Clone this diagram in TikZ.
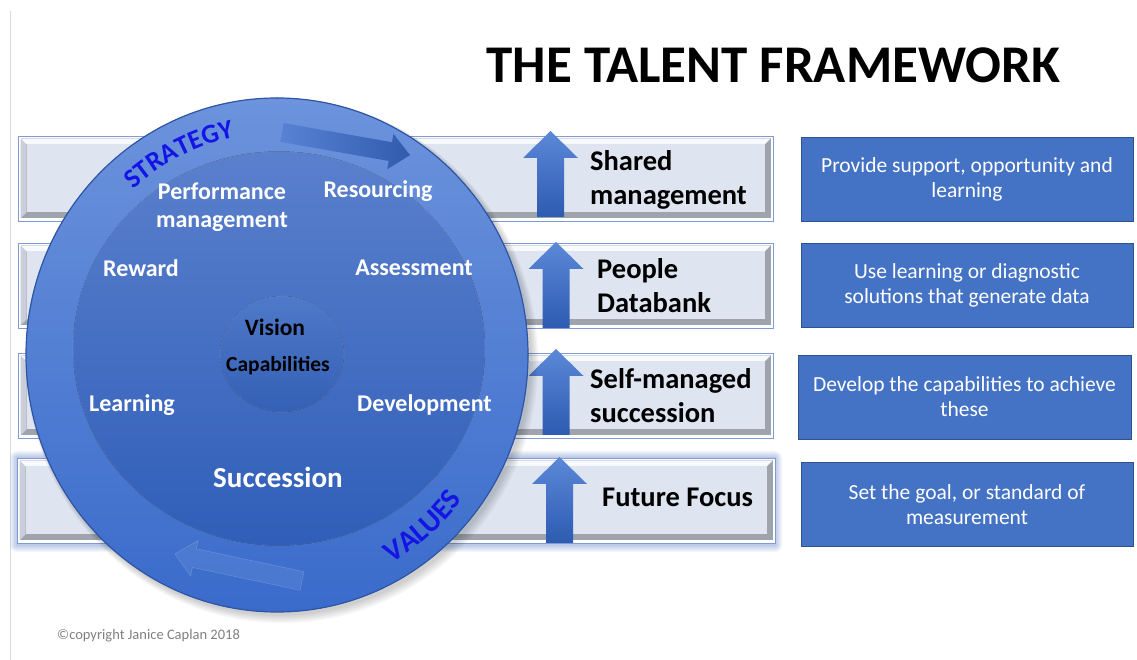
\documentclass[tikz,border=0pt]{standalone}
\usepackage{fontspec}
\setmainfont{Carlito}
\usetikzlibrary{decorations.text}

\definecolor{officeblue}{HTML}{4472C4}
\definecolor{boxedge}{HTML}{2F528F}
\definecolor{barface}{HTML}{DEE5F1}
\definecolor{barline}{HTML}{7F9BD3}
\definecolor{bevellight}{HTML}{F7F9FC}
\definecolor{bevelmid}{HTML}{C9CED8}
\definecolor{beveldark}{HTML}{9EA3AC}
\definecolor{ringtop}{HTML}{6C93DC}
\definecolor{ringbottom}{HTML}{3A6BCB}
\definecolor{ringrim}{HTML}{2E55A5}
\definecolor{disctop}{HTML}{5A80CD}
\definecolor{discbottom}{HTML}{305EB8}
\definecolor{coretop}{HTML}{4F79C9}
\definecolor{corebottom}{HTML}{3460B5}
\definecolor{wordblue}{HTML}{1414E6}
\definecolor{arrowtop}{HTML}{5C88D8}
\definecolor{arrowbottom}{HTML}{2D5BB1}
\definecolor{notegray}{HTML}{808080}

\newcommand\titlefont{\bfseries\fontsize{53}{60}\selectfont}
\newcommand\barfont{\bfseries\fontsize{28.5}{34}\selectfont}
\newcommand\notefont{\fontsize{21.5}{25}\selectfont}
\newcommand\wheelfont{\bfseries\fontsize{24}{28}\selectfont}
\newcommand\arcfont{\bfseries\fontsize{27}{27}\selectfont}
\newcommand\arcfontb{\bfseries\fontsize{29.5}{29.5}\selectfont}

\tikzset{
  x=1pt, y=1pt,
  bar/.style={draw=barline, line width=0.8pt, fill=white, inner sep=0pt,
    minimum height=85pt,
    path picture={
      \fill[beveldark]
        ([shift={(2.5pt,2.5pt)}]path picture bounding box.south west) rectangle
        ([shift={(-2.5pt,-2.5pt)}]path picture bounding box.north east);
      \fill[bevelmid]
        ([shift={(2.5pt,-2.5pt)}]path picture bounding box.north west) --
        ([shift={(8.5pt,-8.5pt)}]path picture bounding box.north west) --
        ([shift={(8.5pt,8.5pt)}]path picture bounding box.south west) --
        ([shift={(2.5pt,2.5pt)}]path picture bounding box.south west) -- cycle;
      \fill[bevellight]
        ([shift={(2.5pt,-2.5pt)}]path picture bounding box.north west) --
        ([shift={(-2.5pt,-2.5pt)}]path picture bounding box.north east) --
        ([shift={(-8.5pt,-8.5pt)}]path picture bounding box.north east) --
        ([shift={(8.5pt,-8.5pt)}]path picture bounding box.north west) -- cycle;
      \fill[barface]
        ([shift={(8.5pt,8.5pt)}]path picture bounding box.south west) rectangle
        ([shift={(-8.5pt,-8.5pt)}]path picture bounding box.north east);
    }},
  % multi-line nodes: the base anchor sits on the last line
  bartext/.style={font=\barfont, align=left, inner sep=0pt, anchor=base west},
  note/.style={draw=boxedge, line width=0.8pt, fill=officeblue, text=white,
    align=center, inner sep=0pt, minimum width=332pt, minimum height=84pt,
    font=\notefont},
  wheeltext/.style={font=\wheelfont, text=white, align=center, inner sep=0pt, anchor=base},
  uparrow/.pic={
    \path[pic actions] (-13.5,0) -- (-13.5,59) -- (-27.5,59) -- (0,86)
      -- (27.5,59) -- (13.5,59) -- (13.5,0) -- cycle;},
  ringarrow/.pic={
    \path[pic actions] (0,-9.5) -- (110,-9.5) -- (110,-18) -- (130,0)
      -- (110,18) -- (110,9.5) -- (0,9.5) -- cycle;},
  upfill/.style={top color=arrowtop, bottom color=arrowbottom},
}

\begin{document}
\begin{tikzpicture}
\useasboundingbox (0,0) rectangle (1137,660);
\fill[white] (0,0) rectangle (1137,660);

% thin margin rule on the left
\draw[line width=1pt, black!15] (10,649) -- (10,0);

% heading
\node[font=\titlefont, inner sep=0pt, anchor=base] (title) at (773.5,577) {THE TALENT FRAMEWORK};

% soft glow behind the lowest bar
\foreach \g in {1,...,7}
  \fill[officeblue, opacity=0.06, rounded corners=\g pt]
    (17-\g,116-\g-1) rectangle (775+\g,203+\g-1);

% the four bevelled bars
\node[bar, minimum width=755pt] (bar1) at (395.5,481.5) {};
\node[bar, minimum width=755pt] (bar2) at (395.5,374.5) {};
\node[bar, minimum width=755pt] (bar3) at (395.5,264.5) {};
\node[bar, minimum width=758pt] (bar4) at (396,159.5) {};

% rising arrows
\pic[upfill] at (550.5,443) {uparrow};
\pic[upfill] at (556,332) {uparrow};
\pic[upfill] at (556,225) {uparrow};
\pic[upfill] at (559.5,117) {uparrow};

% bar captions
\node[bartext] (shared) at (590,455) {Shared\\management};
\node[bartext] (people) at (597,347) {People\\Databank};
\node[bartext] (selfman) at (590,237) {Self-managed\\succession};
\node[bartext] (future) at (602,153) {Future Focus};

% explanation boxes
\node[note] (n1) at (967,481) {Provide support, opportunity and\\learning};
\node[note] (n2) at (967,374.5) {Use learning or diagnostic\\solutions that generate data};
\node[note, minimum width=333pt] (n3) at (964.5,263) {Develop the capabilities to achieve\\these};
\node[note] (n4) at (967,155.5) {Set the goal, or standard of\\measurement};

% wheel: shadow, outer ring, inner disc, core
\foreach \k in {1,...,5}
  \fill[black, opacity=0.04] (279+0.6*\k,303-0.8*\k) ellipse [x radius=251+\k, y radius=257+\k];
\fill[top color=ringtop, bottom color=ringbottom] (277,305) ellipse [x radius=251, y radius=257];
\draw[ringrim, line width=1.2pt] (277,305) ellipse [x radius=251, y radius=257];
\coordinate (wheel) at (277,305);
\fill[top color=disctop, bottom color=discbottom] (279,311.5) ellipse [x radius=206, y radius=197];
\draw[white, opacity=0.1, line width=0.8pt] (279,311.5) ellipse [x radius=206, y radius=197];
\fill[top color=coretop, bottom color=corebottom] (282,306) ellipse [x radius=62, y radius=58];
\draw[white, opacity=0.1, line width=0.8pt] (282,306) ellipse [x radius=62, y radius=58];

% circulating arrows on the ring
\pic[rotate=-10, left color=ringtop!60!ringbottom, right color=ringbottom!85!black] at (282,527.5) {ringarrow};
\pic[rotate=168, fill=ringtop, fill opacity=0.3, draw=ringtop!60!white, draw opacity=0.4] at (302,79) {ringarrow};

% labels in the wheel
\node[wheeltext] (perf) at (222,432) {Performance\\management};
\node[wheeltext] (resourcing) at (378,462) {Resourcing};
\node[wheeltext] (reward) at (141,383) {Reward};
\node[wheeltext] (assessment) at (414,384) {Assessment};
\node[wheeltext, text=black, font=\bfseries\fontsize{23.5}{28}\selectfont] (vision) at (275,324) {Vision};
\node[wheeltext, text=black, font=\bfseries\fontsize{21.5}{26}\selectfont] (capab) at (278,288) {Capabilities};
\node[wheeltext] (learning) at (132,248) {Learning};
\node[wheeltext] (development) at (424.5,248) {Development};
\node[wheeltext, font=\bfseries\fontsize{29}{34}\selectfont] (succession) at (278,172) {Succession};

% lettering that follows the ring
\path[decorate, decoration={text along path, text align=center,
    text color=wordblue, text={|\arcfont|STRATEGY}}]
  ([shift={(141:216pt and 222pt)}]wheel) arc[start angle=141, end angle=92, x radius=216, y radius=222];
\path[decorate, decoration={text along path, text align=center,
    text color=wordblue, text={|\arcfontb|VALUES}}]
  ([shift={(-72:233pt and 239pt)}]wheel) arc[start angle=-72, end angle=-26, x radius=233, y radius=239];

% footer
\node[font=\fontsize{14.5}{17}\selectfont, text=notegray, inner sep=0pt, anchor=base west] (copy) at (57,20) {©copyright Janice Caplan 2018};
\end{tikzpicture}
\end{document}
